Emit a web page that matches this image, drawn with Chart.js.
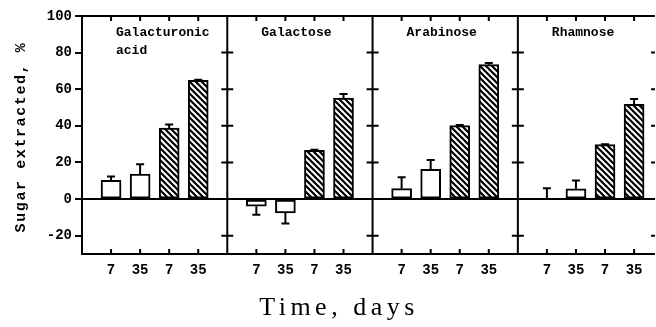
<!DOCTYPE html>
<html><head><meta charset="utf-8">
<script src="https://cdn.jsdelivr.net/npm/chart.js@4/dist/chart.umd.min.js"></script>
<style>html,body{margin:0;padding:0;background:#fff;}#wrap{position:relative;width:656px;height:327px;}</style>
</head><body><div id="wrap"><canvas id="c" width="656" height="327"></canvas></div>
<script>
// ---- data ----
const panelTitles = [['Galacturonic', 'acid'], ['Galactose'], ['Arabinose'], ['Rhamnose']];
const timeLabels = ['7', '35', '7', '35'];
const galacturonic = [10.3, 13.7, 38.8, 64.8];
const galactose = [-3.9, -7.5, 26.6, 55.2];
const arabinose = [5.7, 16.3, 40.1, 73.4];
const rhamnose = [0.0, 5.6, 29.7, 51.7];
const galacturonicErr = [2.1, 5.3, 2.0, 0.4];
const galactoseErr = [4.6, 5.9, 0.4, 2.2];
const arabinoseErr = [6.2, 5.1, 0.3, 0.9];
const rhamnoseErr = [5.9, 4.5, 0.3, 2.9];
const yTickValues = [-20, 0, 20, 40, 60, 80, 100];
const yTitle = 'Sugar extracted, %';
const xTitle = 'Time, days';

// ---- build ----
const groups = [galacturonic, galactose, arabinose, rhamnose];
const groupErrs = [galacturonicErr, galactoseErr, arabinoseErr, rhamnoseErr];
const SLOTS = 5;
const points = [], errs = [], tickPos = [];
groups.forEach((g, p) => g.forEach((v, i) => {
  const x = p * SLOTS + i + 1;
  points.push({x: x, y: v});
  errs.push(groupErrs[p][i]);
  tickPos.push(x);
}));

function hatchPattern() {
  const c = document.createElement('canvas');
  c.width = 6; c.height = 6;
  const g = c.getContext('2d');
  g.fillStyle = '#fff'; g.fillRect(0, 0, 6, 6);
  g.strokeStyle = '#000'; g.lineWidth = 2.2;
  g.beginPath();
  for (let k = -1; k <= 1; k++) { g.moveTo(k * 6 - 1, -1); g.lineTo(k * 6 + 7, 7); }
  g.stroke();
  return document.getElementById('c').getContext('2d').createPattern(c, 'repeat');
}
const hatch = hatchPattern();

const MONO = '"Liberation Mono", "DejaVu Sans Mono", monospace';

const decor = {
  id: 'decor',
  afterDatasetsDraw(chart) {
    const ctx = chart.ctx, a = chart.chartArea;
    const xs = chart.scales.x, ys = chart.scales.y;
    ctx.save();
    ctx.strokeStyle = '#000'; ctx.lineWidth = 2; ctx.lineCap = 'butt';
    // error bars
    points.forEach((pt, i) => {
      const e = errs[i];
      if (!e) return;
      const end = pt.y >= 0 ? pt.y + e : pt.y - e;
      const px = xs.getPixelForValue(pt.x);
      const y0 = ys.getPixelForValue(pt.y), y1 = ys.getPixelForValue(end);
      ctx.beginPath();
      ctx.moveTo(px, y0); ctx.lineTo(px, y1);
      ctx.moveTo(px - 4, y1); ctx.lineTo(px + 4, y1);
      ctx.stroke();
    });
    // frame lines
    const z = ys.getPixelForValue(0);
    ctx.beginPath();
    ctx.moveTo(a.left, a.top); ctx.lineTo(a.right, a.top);
    ctx.moveTo(a.left, a.bottom); ctx.lineTo(a.right, a.bottom);
    ctx.moveTo(a.left, z); ctx.lineTo(a.right - 3, z);
    ctx.stroke();
    // separators with ticks both sides
    for (let p = 1; p < groups.length; p++) {
      const sx = xs.getPixelForValue(p * SLOTS);
      ctx.beginPath();
      ctx.moveTo(sx, a.top); ctx.lineTo(sx, a.bottom);
      yTickValues.forEach(v => {
        const ty = ys.getPixelForValue(v);
        ctx.moveTo(sx - 6, ty); ctx.lineTo(sx + 6, ty);
      });
      ctx.stroke();
    }
    // right edge short ticks
    ctx.beginPath();
    yTickValues.forEach(v => {
      const ty = ys.getPixelForValue(v);
      ctx.moveTo(a.right - 4, ty); ctx.lineTo(a.right, ty);
    });
    ctx.stroke();
    // top & bottom ticks at bar positions
    ctx.beginPath();
    tickPos.forEach(v => {
      const tx = xs.getPixelForValue(v);
      ctx.moveTo(tx, a.top); ctx.lineTo(tx, a.top + 5);
      ctx.moveTo(tx, a.bottom); ctx.lineTo(tx, a.bottom - 5);
    });
    ctx.stroke();
    // panel titles
    ctx.fillStyle = '#000';
    ctx.font = 'bold 13px ' + MONO;
    ctx.textAlign = 'left'; ctx.textBaseline = 'middle';
    panelTitles.forEach((lines, p) => {
      const lx = xs.getPixelForValue(p * SLOTS) + 34;
      lines.forEach((t, j) => ctx.fillText(t, lx, 33 + j * 18));
    });
    // y title
    ctx.save();
    ctx.translate(21, 137);
    ctx.rotate(-Math.PI / 2);
    ctx.font = 'bold 15px ' + MONO;
    ctx.letterSpacing = '1.6px';
    ctx.textAlign = 'center'; ctx.textBaseline = 'middle';
    ctx.fillText(yTitle, 0, 0);
    ctx.restore();
    // x title
    ctx.save();
    ctx.font = '26px "Liberation Serif", "DejaVu Serif", serif';
    ctx.letterSpacing = '4.5px';
    ctx.textAlign = 'center'; ctx.textBaseline = 'alphabetic';
    ctx.fillText(xTitle, 339, 315);
    ctx.restore();
    ctx.restore();
  }
};

new Chart(document.getElementById('c'), {
  type: 'bar',
  data: {
    datasets: [{
      data: points,
      backgroundColor: (c) => (c.dataIndex % 4 < 2 ? '#fff' : hatch),
      borderColor: '#000',
      borderWidth: 2,
      borderSkipped: false,
      barThickness: 20
    }]
  },
  options: {
    responsive: false,
    animation: false,
    devicePixelRatio: 1,
    layout: {padding: {top: 16, right: 1, bottom: 0, left: 0}},
    plugins: {legend: {display: false}, tooltip: {enabled: false}},
    scales: {
      x: {
        type: 'linear', min: 0, max: 19.72, offset: false,
        grid: {display: false, offset: false}, border: {display: false},
        afterBuildTicks: (s) => { s.ticks = tickPos.map(v => ({value: v})); },
        afterFit: (s) => { s.height = 73; },
        ticks: {
          autoSkip: false, maxRotation: 0, minRotation: 0, padding: 0, color: '#000',
          font: {family: MONO, weight: 'bold', size: 14},
          callback: (v, i) => timeLabels[i % timeLabels.length]
        }
      },
      y: {
        min: -30, max: 100,
        afterBuildTicks: (s) => { s.ticks = yTickValues.map(v => ({value: v})); },
        afterFit: (s) => { s.width = 82; },
        grid: {drawOnChartArea: false, tickLength: 7, lineWidth: 2, color: '#000'},
        border: {display: true, width: 2, color: '#000'},
        ticks: {padding: 3, color: '#000', font: {family: MONO, weight: 'bold', size: 14}}
      }
    }
  },
  plugins: [decor]
});
</script></body></html>
